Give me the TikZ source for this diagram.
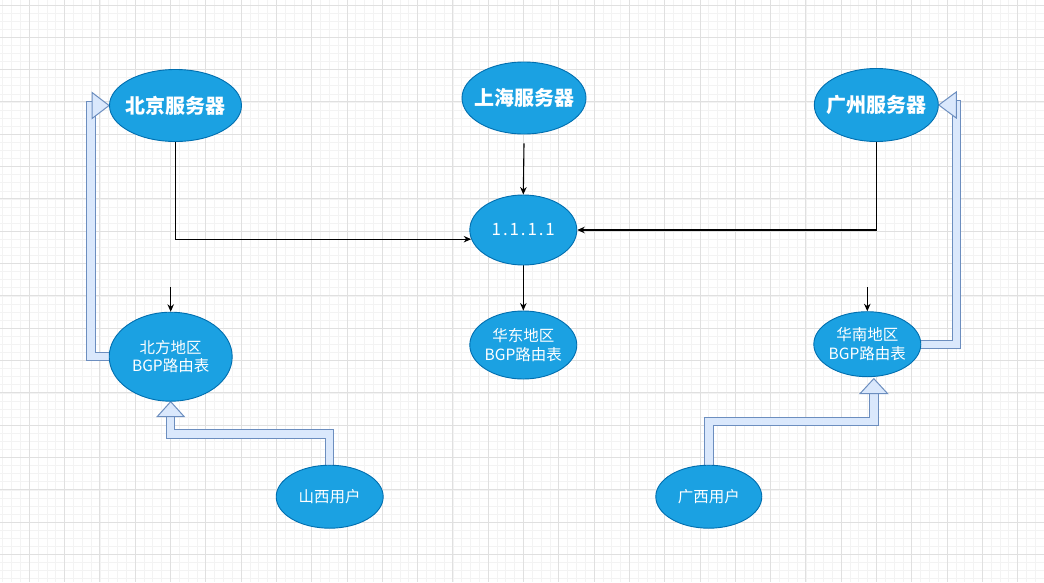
\documentclass[tikz,border=0pt]{standalone}
\usepackage{fontspec}
\newfontfamily\cjk{Noto Sans CJK SC}
\usetikzlibrary{shapes.geometric,arrows.meta,calc}
\pgfdeclarelayer{grid}
\pgfdeclarelayer{links}
\pgfsetlayers{grid,links,main}
\definecolor{nodefill}{HTML}{1BA1E2}
\definecolor{nodeline}{HTML}{006EAF}
\definecolor{flexfill}{HTML}{DAE8FC}
\definecolor{flexline}{HTML}{6C8EBF}
\definecolor{gridmajor}{HTML}{E0E0E0}
\definecolor{gridminor}{HTML}{F3F3F3}
% broad hollow arrow shaft: outline stroke, then lighter core
\newcommand\flexshaft[1]{%
  \draw[flexout] #1;
  \draw[flexin] #1;}
\begin{document}
\begin{tikzpicture}[x=1pt,y=-1pt,
  blob/.style={ellipse,draw=nodeline,fill=nodefill,line width=0.9pt,inner sep=0pt},
  txt/.style={text=white,align=center,inner sep=0pt},
  server/.style={blob,label={[txt,font=\cjk\fontsize{20}{24}\selectfont\bfseries]center:{#1}}},
  rtable/.style={blob,label={[txt,font=\cjk\fontsize{15.5}{18.5}\selectfont]center:{#1}}},
  usernode/.style={blob,label={[txt,font=\cjk\fontsize{15.5}{18}\selectfont]center:{#1}}},
  ipnode/.style={blob,label={[txt,font=\cjk\fontsize{17}{20}\selectfont\addfontfeature{LetterSpace=11}]center:{#1}}},
  link/.style={line width=1.1pt,-{Stealth[length=7.5pt,width=6.5pt]}},
  flexout/.style={draw=flexline,line width=9.4pt,line join=miter,shorten >=15pt,shorten <=-3pt},
  flexin/.style={draw=flexfill,line width=7.4pt,line join=miter,shorten >=15pt,shorten <=-3pt},
  flexhead/.style={fill=flexfill,draw=flexline,line width=1pt,line join=miter},
  gridmin/.style={draw=gridminor,line width=0.8pt},
  gridmaj/.style={draw=gridmajor,line width=1pt}]
\useasboundingbox (0,0) rectangle (1044,582);

% background grid
\begin{pgfonlayer}{grid}
  \fill[white] (0,0) rectangle (1044,582);
  \begin{scope}
    \clip (0,0) rectangle (1044,582);
    \foreach \i in {0,...,120} \draw[gridmin] ({-6+8.825*\i},0) -- ({-6+8.825*\i},582);
    \foreach \j in {0,...,76} \draw[gridmin] (0,{-27.33+8.0825*\j}) -- (1044,{-27.33+8.0825*\j});
    \foreach \i in {0,...,30} \draw[gridmaj] ({-6+35.3*\i},0) -- ({-6+35.3*\i},582);
    \foreach \j in {0,...,19} \draw[gridmaj] (0,{-27.33+32.33*\j}) -- (1044,{-27.33+32.33*\j});
  \end{scope}
\end{pgfonlayer}

% servers
\node[server=北京服务器,minimum width=132pt,minimum height=72pt] (bj) at (175.5,105.5) {};
\node[server=上海服务器,minimum width=124pt,minimum height=72pt] (sh) at (524,98) {};
\node[server=广州服务器,minimum width=124pt,minimum height=73pt] (gz) at (876.3,105) {};

% anycast address and regional route tables
\node[ipnode=1.1.1.1,minimum width=107pt,minimum height=70pt] (ip) at (523.3,230) {};
\node[rtable={华东地区\\BGP路由表},minimum width=107pt,minimum height=68pt] (hd) at (523.3,345) {};
\node[rtable={北方地区\\BGP路由表},minimum width=123pt,minimum height=89pt] (nf) at (170.7,356.7) {};
\node[rtable={华南地区\\BGP路由表},minimum width=107pt,minimum height=65pt] (hn) at (867.3,344.2) {};

% users
\node[usernode=山西用户,minimum width=107pt,minimum height=63pt] (sx) at (329.7,496.7) {};
\node[usernode=广西用户,minimum width=106pt,minimum height=63pt] (gx) at (708.8,496.7) {};

\coordinate (nfin) at (170.7,287);
\coordinate (hnin) at (867.3,287);
\coordinate (lc) at (91,105.5);
\coordinate (rc) at (956.2,105);
\coordinate (hntip) at ([shift={(6.5,1.5)}]hn.south);

\begin{pgfonlayer}{links}
  % announcements
  \draw[link] (bj.south) |- (ip.190);
  \draw[link] (gz.south) |- (ip.east);
  \draw[link] ([yshift=-9pt]sh.south) -- (ip.north);
  \draw[link] (ip.south) -- (hd.north);
  \draw[link] (nfin) -- (nf.north);
  \draw[link] (hnin) -- (hn.north);

  % user traffic paths
  \flexshaft{(nf.west) -| (lc) -- (bj.west)}
  \draw[flexhead] (bj.west) -- ++(-17,-13) -- ++(0,26) -- cycle;
  \flexshaft{(hn.east) -| (rc) -- (gz.east)}
  \draw[flexhead] (gz.east) -- ++(17.5,-13) -- ++(0,26) -- cycle;
  \flexshaft{(sx.north) |- ($(nf.south)+(0,32.2)$) -- (nf.south)}
  \draw[flexhead] (nf.south) -- ++(-13.5,15) -- ++(27,0) -- cycle;
  \flexshaft{(gx.north) |- ($(hntip)+(0,43)$) -- (hntip)}
  \draw[flexhead] (hntip) -- ++(-13.8,15) -- ++(27.6,0) -- cycle;
\end{pgfonlayer}
\end{tikzpicture}
\end{document}
